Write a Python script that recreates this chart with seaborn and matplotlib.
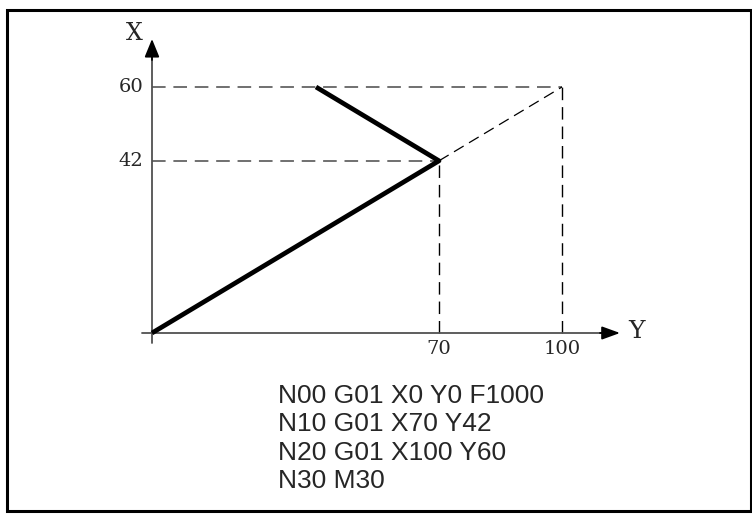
import numpy as np
import pandas as pd
import matplotlib
matplotlib.use("Agg")
import matplotlib.pyplot as plt
import seaborn as sns
from matplotlib.patches import Rectangle

# tool path (horizontal axis is labelled Y, vertical axis X)
path_h = [0, 70, 40]
path_v = [0, 42, 60]
# thin dashed continuation to the programmed end point
ext_h = [70, 100]
ext_v = [42, 60]
# tick values on both axes
h_ticks = [70, 100]
v_ticks = [42, 60]
program = ["N00 G01 X0 Y0 F1000", "N10 G01 X70 Y42",
           "N20 G01 X100 Y60", "N30 M30"]

sns.set_style("white")
plt.rcParams['font.family'] = ['DejaVu Sans']

fig = plt.figure(figsize=(7.52, 5.15), dpi=100)
ax = fig.add_axes([0, 0, 1, 1])
px = 4.1  # pixels per unit
ax.set_xlim(-152 / px, (752 - 152) / px)
ax.set_ylim(-182 / px, (515 - 182) / px)
ax.axis('off')

# border around the whole figure
fig.patches.append(Rectangle((7 / 752, 4 / 515), 744 / 752, 501 / 515,
                             transform=fig.transFigure, fill=False,
                             edgecolor='black', linewidth=2.2))

grey = '#707070'
# guide lines
for v, h in zip(v_ticks, h_ticks):
    ax.plot([0, h], [v, v], color=grey, lw=1.4, ls=(0, (7, 4)))
    ax.plot([h, h], [0, v], color='black', lw=1.0, ls=(0, (9, 5)))
ax.plot(ext_h, ext_v, color='black', lw=0.9, ls=(0, (9, 5)))

# axes with arrows
ax.plot([-10 / px, (603 - 152) / px], [0, 0], color='#505050', lw=1.3)
ax.plot([0, 0], [-10 / px, (333 - 57) / px], color='#505050', lw=1.3)
ax.annotate('', xy=((620 - 152) / px, 0), xytext=((600 - 152) / px, 0),
            arrowprops=dict(arrowstyle='-|>,head_length=1.1,head_width=0.4',
                            color='black', lw=1.3, shrinkA=0, shrinkB=0))
ax.annotate('', xy=(0, (333 - 39) / px), xytext=(0, (333 - 60) / px),
            arrowprops=dict(arrowstyle='-|>,head_length=1.1,head_width=0.45',
                            color='black', lw=1.3, shrinkA=0, shrinkB=0))

# bold tool path
df = pd.DataFrame({'h': path_h, 'v': path_v})
sns.lineplot(data=df, x='h', y='v', sort=False, color='black', lw=3.4,
             ax=ax, solid_capstyle='butt')

serif = ['DejaVu Serif']
for t in h_ticks:
    ax.text(t, -16 / px, str(t), ha='center', va='center', fontsize=14,
            family=serif)
for t in v_ticks:
    ax.text(-9 / px, t, str(t), ha='right', va='center', fontsize=14,
            family=serif)
ax.text((636 - 152) / px, 2 / px, 'Y', ha='center', va='center',
        fontsize=18, family=serif)
ax.text((134 - 152) / px, (333 - 34) / px, 'X', ha='center', va='center',
        fontsize=17, family=serif)

for i, line in enumerate(program):
    fig.text(278 / 752, 1 - (396 + 28.3 * i) / 515, line, ha='left',
             va='center', fontsize=19, family=['Liberation Sans'])

fig.savefig('out.png', dpi=100)
